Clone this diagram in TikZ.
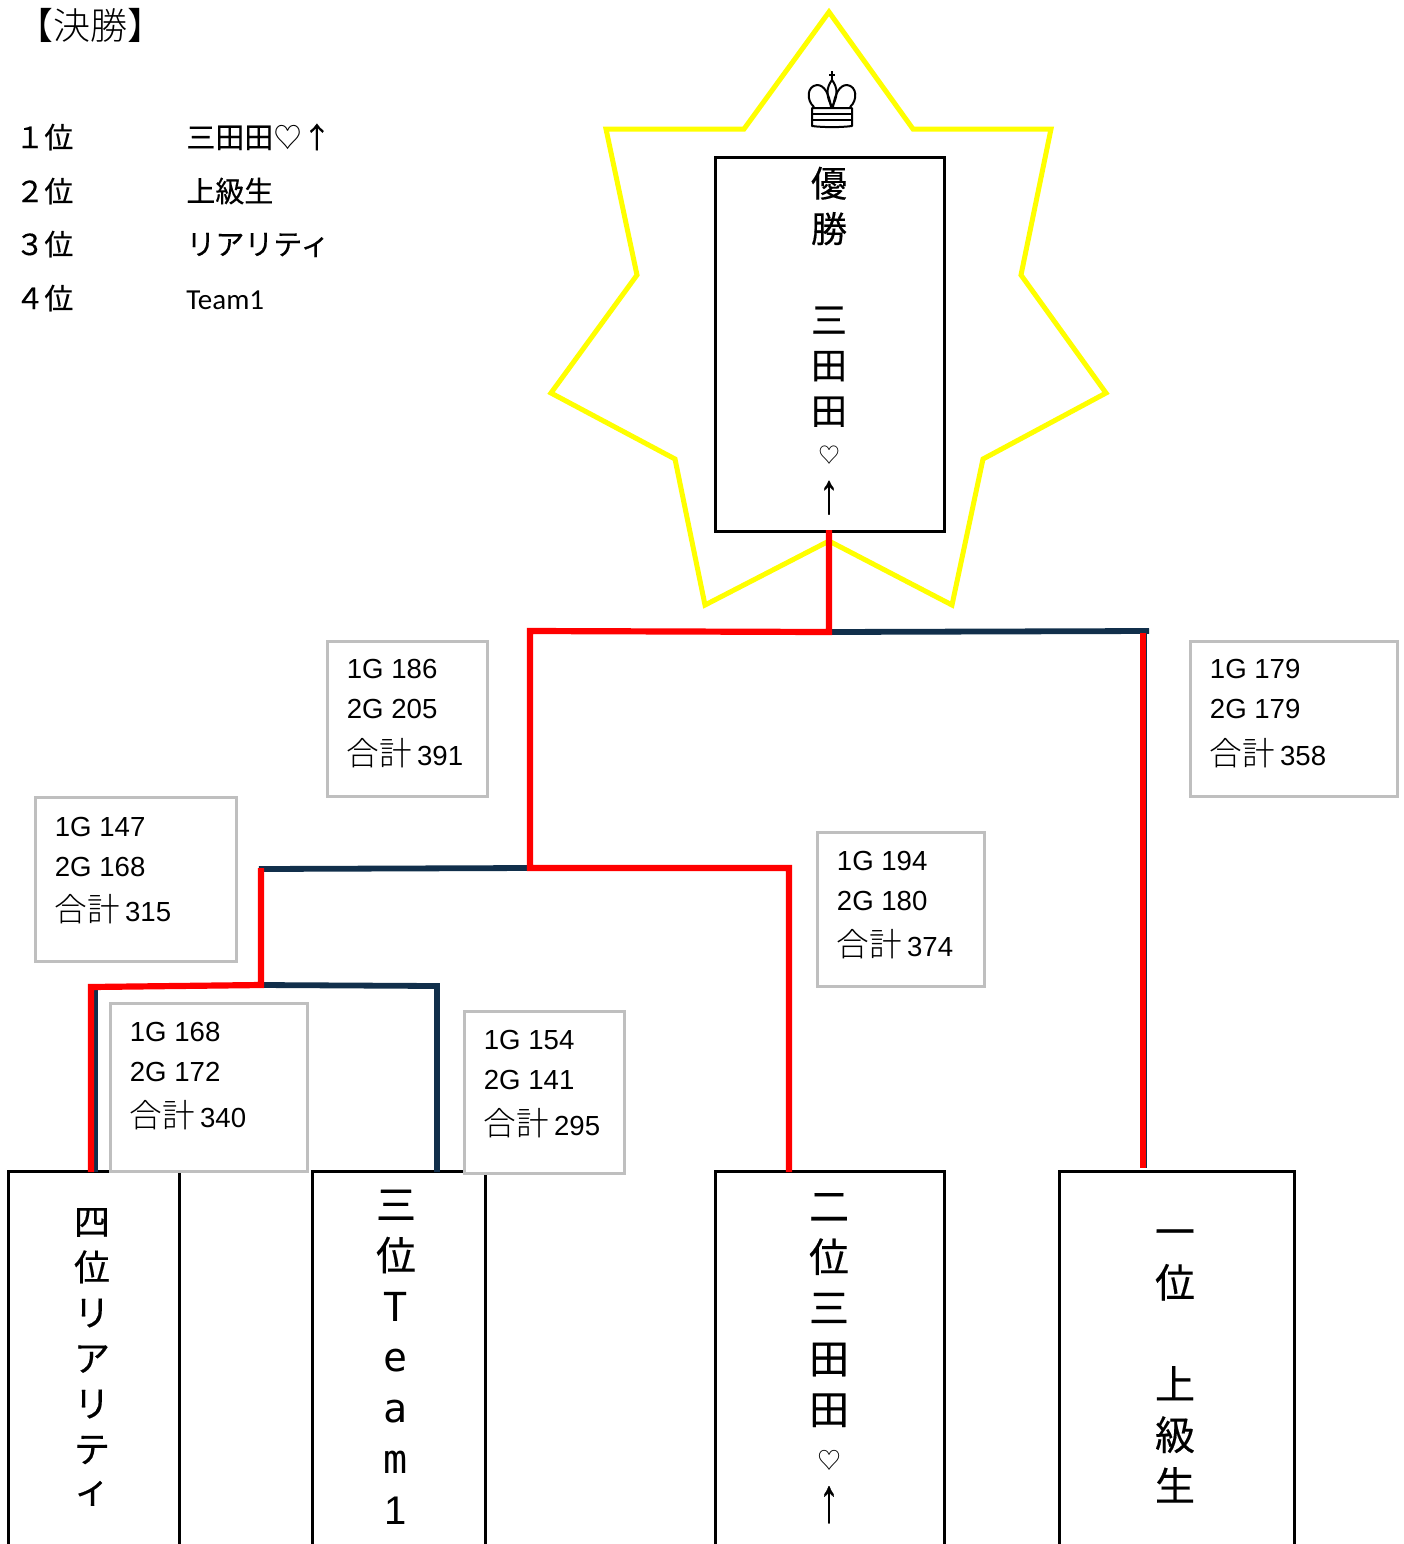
\documentclass[tikz,border=0pt]{standalone}
\usepackage{graphicx}
\usepackage{fontspec}
\setmainfont{Liberation Sans}
\newfontfamily\jpf{Noto Sans CJK JP}
\newfontfamily\jpb[FakeBold=0.35]{Noto Sans CJK JP}
\newfontfamily\jpl{Noto Sans CJK JP Light}
\newfontfamily\dvm{DejaVu Sans Mono}
\newfontfamily\lib{Liberation Sans}
\newfontfamily\libb[FakeBold=0.5]{Liberation Sans}
\newfontfamily\crl{Carlito}
\definecolor{navyline}{HTML}{112F4B}
\definecolor{redline}{HTML}{FF0000}
\definecolor{starline}{HTML}{FFFF00}
\definecolor{greyline}{HTML}{BFBFBF}
\tikzset{
  blackbox/.style={draw=black,line width=1.6pt,fill=none,inner sep=0pt,outer sep=0pt,anchor=north west},
  greybox/.style={draw=greyline,line width=1.5pt,fill=white,inner sep=0pt,outer sep=0pt,anchor=north west},
  rednet/.style={draw=redline,line width=3.1pt,line join=miter},
  navynet/.style={draw=navyline,line width=2.9pt,line join=miter},
  star/.style={draw=starline,line width=2.5pt,line join=miter},
  crownline/.style={draw=black,line width=1pt,line join=round},
  scoretext/.style={font=\fontsize{13.8}{16}\selectfont,inner sep=0pt,anchor=base west},
  stacksmall/.style={font=\jpb\fontsize{18}{22.75}\selectfont,align=center,inner sep=0pt},
  stacklarge/.style={font=\jpb\fontsize{20}{25.4}\selectfont,align=center,inner sep=0pt},
  listtext/.style={font=\jpb\fontsize{14.5}{16}\selectfont,inner sep=0pt,anchor=west},
}
\newcommand{\scorebox}[9]{%
  \node[greybox,minimum width={(#4-#2)*0.5-0.5},minimum height={(#5-#3)*0.5-0.5}] (#1) at (#2,#3) {};
  \node[scoretext] (#1-a) at (#2+19.5,#3+38+#9) {#6};
  \node[scoretext] (#1-b) at (#2+19.5,#3+78+#9) {#7};
  \node[scoretext] (#1-c) at (#2+19.5,#3+124) {{\jpl\fontsize{16.3}{16}\selectfont 合計}\hspace{2.5pt}#8};
}
\newcommand{\smheart}[1]{{\jpf\fontsize{#1}{#1}\selectfont ♡}}
\newcommand{\raisedheart}[1]{\smash{\raisebox{3pt}{\smheart{#1}}}}
\newcommand{\thinup}[2]{\smash{\raisebox{#2}{\scalebox{1.05}[#1]{\libb\fontsize{19}{19}\selectfont ↑}}}}
\begin{document}
\begin{tikzpicture}[x=0.5pt,y=-0.5pt]
\useasboundingbox (0,0) rectangle (1404,1544);
\clip (0,0) rectangle (1404,1544);
% star
\draw[star] (829,12) -- (913,129) -- (1051,129) -- (1021,275) -- (1106,393) -- (983,459) -- (952,605) -- (829,541) -- (705,605) -- (675,459) -- (551,393) -- (637,275) -- (606,129) -- (744,129) -- cycle;
% crown
\draw[crownline] (832,71) -- (832,80) (829,74.5) -- (835,74.5);
\draw[crownline] (812,108) -- (852,108) -- (852,126) .. controls (840,127.5) and (824,127.5) .. (812,126) -- cycle;
\draw[crownline] (812,114) -- (852,114) (812,120) -- (852,120);
\draw[crownline] (832,107) .. controls (826,96) and (826,88) .. (832,80) .. controls (838,88) and (838,96) .. (832,107);
\draw[crownline] (814,107) .. controls (806,100) and (807,86) .. (817,85) .. controls (824,85) and (829,93) .. (831,107);
\draw[crownline] (850,107) .. controls (858,100) and (857,86) .. (847,85) .. controls (840,85) and (835,93) .. (833,107);
% boxes
\node[blackbox,minimum width=114.5pt,minimum height=187pt] (champ) at (715.5,157.5) {};
\node[blackbox,minimum width=85.5pt,minimum height=220pt] (fourth) at (8.5,1171.5) {};
\node[blackbox,minimum width=86.5pt,minimum height=220pt] (third) at (312.5,1171.5) {};
\node[blackbox,minimum width=114.5pt,minimum height=220pt] (second) at (715.5,1171.5) {};
\node[blackbox,minimum width=117.5pt,minimum height=220pt] (first) at (1059.5,1171.5) {};
% stacked labels
\node[stacksmall] (champ-t) at (829,341) {優\\勝\\\mbox{}\\三\\田\\田\\\raisedheart{11}\\\thinup{1.5}{1.2pt}};
\node[stacksmall] (fourth-t) at (92,1358) {四\\位\\リ\\ア\\リ\\テ\\\raisebox{2.5pt}{ィ}};
\node[stacklarge] (third-t) at (396,1357) {三\\位\\{\dvm T}\\{\dvm e}\\{\dvm a}\\{\dvm m}\\{\lib 1}};
\node[stacklarge] (second-t) at (829,1359.5) {二\\位\\三\\田\\田\\\raisedheart{12}\\\thinup{1.65}{2.2pt}};
\node[stacklarge] (first-t) at (1175,1366) {一\\位\\\mbox{}\\上\\級\\生};
% junctions
\coordinate (champ-foot) at (829,530);
\coordinate (final-mid) at (829,632);
\coordinate (final-left) at (530,631);
\coordinate (final-right) at (1149,631);
\coordinate (semi-mid) at (530,868);
\coordinate (semi-right) at (789,868);
\coordinate (semi-left) at (259,869);
\coordinate (qf-top) at (261,985);
\coordinate (qf-left) at (91,987);
\coordinate (qf-right) at (437,986);
\coordinate (feet4) at (91,1172);
\coordinate (feet4b) at (95,1172);
\coordinate (feet3) at (437,1172);
\coordinate (feet2) at (789,1172);
\coordinate (feet1) at (1143,1168);
% navy connectors
\draw[navynet] (final-mid) -- (final-right);
\draw[navynet] (1144.5,631) -- (1144.5,1168);
\draw[navynet] (semi-left) -- (semi-mid);
\draw[navynet] (qf-top) -- (qf-right) -- (feet3);
\draw[navynet] (95,987) -- (feet4b);
% red connectors
\draw[rednet] (champ-foot) -- (final-mid) -- (final-left) -- (semi-mid) -- (semi-right) -- (feet2);
\draw[rednet] (261,868) -- (qf-top) -- (qf-left) -- (feet4);
\draw[rednet] (1143,633) -- (feet1);
% score boxes
\scorebox{s1}{327}{641}{488}{797}{1G 186}{2G 205}{391}{-1}
\scorebox{s2}{1190}{641}{1398}{797}{1G 179}{2G 179}{358}{-1}
\scorebox{s3}{35}{797}{237}{962}{1G 147}{2G 168}{315}{1}
\scorebox{s4}{817}{832}{985}{987}{1G 194}{2G 180}{374}{0}
\scorebox{s5}{110}{1003}{308}{1172}{1G 168}{2G 172}{340}{0}
\scorebox{s6}{464}{1011}{625}{1174}{1G 154}{2G 141}{295}{0}
% list
\node[inner sep=0pt,anchor=center,font=\jpl\fontsize{18.5}{20}\selectfont] (title) at (91,25) {【決勝】};
\node[listtext] (r1) at (15,137) {１位};
\node[listtext] (r2) at (15,191) {２位};
\node[listtext] (r3) at (15,244) {３位};
\node[listtext] (r4) at (15,298) {４位};
\node[listtext] (n1) at (186,137) {三田田\smheart{14.5}↑};
\node[listtext] (n2) at (186,191) {上級生};
\node[listtext] (n3) at (186,245) {リアリティ};
\node[listtext,font=\crl\fontsize{14.5}{16}\selectfont] (n4) at (186,300) {Team1};
\end{tikzpicture}
\end{document}
